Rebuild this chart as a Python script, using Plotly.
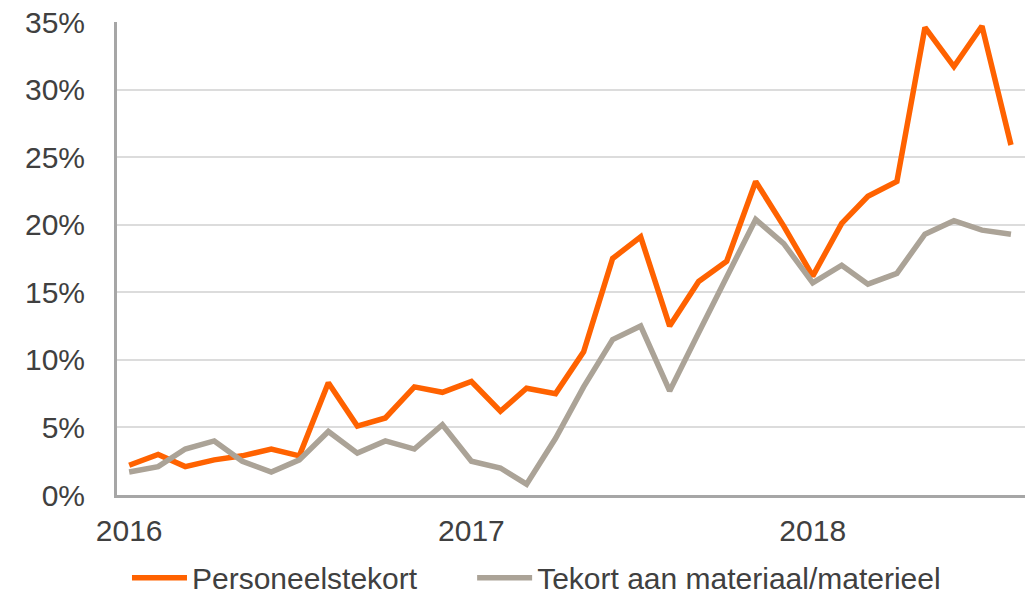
import pandas as pd
import plotly.graph_objects as go

FONT_FAMILY = "Liberation Sans, Arial, sans-serif"
TEXT_COLOR = "#404040"
ORANGE = "#FF6200"
GREY = "#ABA397"
NBSP = "\u00a0"

months = pd.date_range("2016-01-01", "2018-08-01", freq="MS")

personeelstekort = [
    2.2, 3.0, 2.1, 2.6, 2.9, 3.4, 2.9, 8.3, 5.1, 5.7, 8.0, 7.6,
    8.4, 6.2, 7.9, 7.5, 10.6, 17.5, 19.1, 12.5, 15.8, 17.3, 23.2, 19.9,
    16.2, 20.1, 22.1, 23.2, 34.6, 31.7, 34.7, 25.9,
]
tekort_materiaal = [
    1.7, 2.1, 3.4, 4.0, 2.5, 1.7, 2.6, 4.7, 3.1, 4.0, 3.4, 5.2,
    2.5, 2.0, 0.8, 4.2, 8.0, 11.5, 12.5, 7.7, 12.0, 16.2, 20.4, 18.6,
    15.7, 17.0, 15.6, 16.4, 19.3, 20.3, 19.6, 19.3,
]

y_ticks = [0, 5, 10, 15, 20, 25, 30, 35]
y_tick_labels = [f"{v}%" for v in y_ticks]
x_ticks = ["2016-01-01", "2017-01-01", "2018-01-01"]
x_tick_labels = ["2016", "2017", "2018"]

fig = go.Figure()
fig.add_trace(
    go.Scatter(
        x=months,
        y=personeelstekort,
        mode="lines",
        # trailing non-breaking spaces widen the gap to the next legend entry
        name="Personeelstekort" + NBSP * 6,
        line=dict(color=ORANGE, width=5.5),
    )
)
fig.add_trace(
    go.Scatter(
        x=months,
        y=tekort_materiaal,
        mode="lines",
        name="Tekort aan materiaal/materieel",
        line=dict(color=GREY, width=5.5),
    )
)

fig.update_layout(
    width=1033,
    height=601,
    margin=dict(l=117, r=8, t=22, b=106, autoexpand=False),
    plot_bgcolor="white",
    paper_bgcolor="white",
    font=dict(family=FONT_FAMILY, size=30, color=TEXT_COLOR),
    showlegend=True,
    legend=dict(
        orientation="h",
        x=0.011,
        xanchor="left",
        y=-0.12,
        yanchor="top",
        itemwidth=55,
        font=dict(size=30, color=TEXT_COLOR),
        traceorder="normal",
    ),
)
fig.update_xaxes(
    type="date",
    range=["2015-12-19", "2018-08-16"],
    tickvals=x_ticks,
    ticktext=x_tick_labels,
    showgrid=False,
    zeroline=False,
    showline=True,
    linecolor="#A6A6A6",
    linewidth=3,
    ticks="outside",
    ticklen=7,
    tickcolor="rgba(0,0,0,0)",
    automargin=False,
    fixedrange=True,
)
fig.update_yaxes(
    range=[0, 35],
    tickvals=y_ticks,
    ticktext=y_tick_labels,
    showgrid=True,
    gridcolor="#DCDCDC",
    gridwidth=1.5,
    zeroline=False,
    showline=True,
    linecolor="#A6A6A6",
    linewidth=3,
    ticks="outside",
    ticklen=23,
    tickcolor="rgba(0,0,0,0)",
    ticklabeloverflow="allow",
    automargin=False,
    fixedrange=True,
)

# drop the default 8px body margin so the figure fills the window exactly
fig.write_html(
    "out.html",
    config={"displayModeBar": False},
    post_script="document.body.style.margin = '0';",
)
